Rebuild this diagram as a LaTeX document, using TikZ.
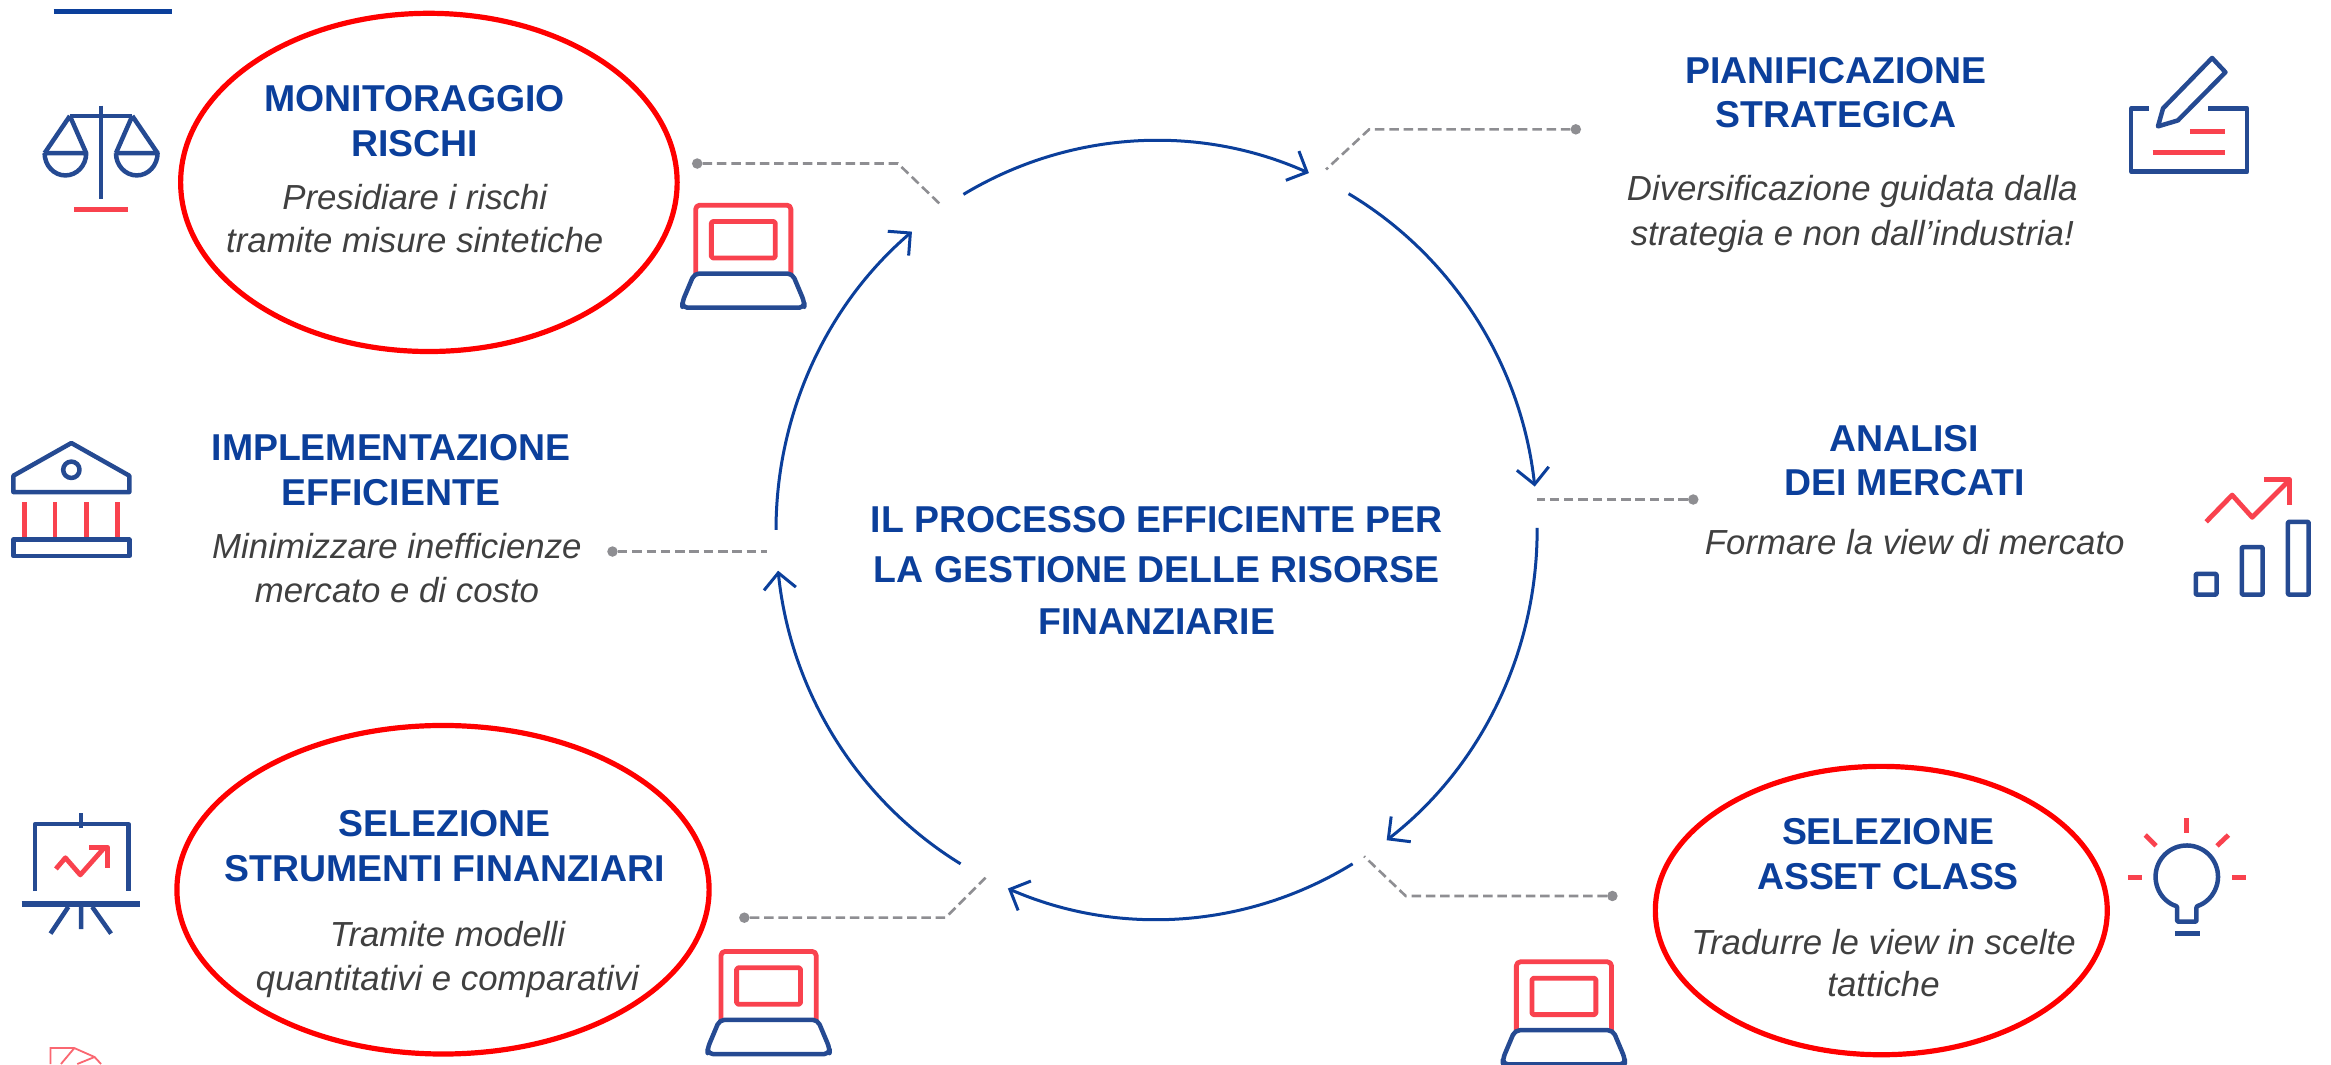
\documentclass[tikz,border=0pt]{standalone}
\usepackage{fontspec}
\setmainfont{Liberation Sans}
\usetikzlibrary{arrows.meta,calc,shapes.geometric}
\definecolor{titleblue}{HTML}{0B3F9B}
\definecolor{iconblue}{HTML}{254A92}
\definecolor{iconred}{HTML}{F9424E}
\definecolor{ringred}{HTML}{FF0000}
\definecolor{dashgray}{HTML}{8E8E92}
\definecolor{bodygray}{HTML}{404040}
\newcommand{\cyc}[3]{%
  \coordinate (#1) at ({778+256*cos(#2)},{356.5+262*sin(#2)});}
\tikzset{
  x=1.4866pt,y=-1.4866pt,
  ring/.style={ellipse,draw=ringred,line width=5.2pt,inner sep=0pt},
  head/.style={text=titleblue,font=\fontsize{37.4}{37.4}\selectfont\bfseries,anchor=base,inner sep=0pt},
  body/.style={text=bodygray,font=\fontsize{34.8}{34.8}\selectfont\itshape,anchor=base,inner sep=0pt},
  flow/.style={draw=titleblue,line width=3pt,-{Straight Barb[length=16pt,width=32pt,line width=3pt]}},
  lead/.style={draw=dashgray,line width=2.6pt,dash pattern=on 9.5pt off 4.8pt},
  leaddot/.style={circle,fill=dashgray,minimum size=10.5pt,inner sep=0pt},
  ib/.style={draw=iconblue,line width=4.5pt,line join=round},
  ir/.style={draw=iconred,line width=4.8pt,line join=round},
  pics/laptop/.style={code={
    \draw[ir,rounded corners=4pt] (-32,46) -- (-32,0) -- (32,0) -- (32,46);
    \draw[ir,rounded corners=1.5pt] (-21.5,11) rectangle (21.5,35.5);
    \draw[ib,rounded corners=5pt] (-33,46) -- (33,46) -- (41,65) -- (41,69) -- (-41,69) -- (-41,65) -- cycle;
  }},
}
\begin{document}
\begin{tikzpicture}
\useasboundingbox (0,0) rectangle (1568,715.73);
\fill[white] (0,0) rectangle (1568,715.73);
% top rule
\coordinate (ruleA) at (36,8); \coordinate (ruleB) at (116,8);
\draw[titleblue,line width=5pt] (ruleA) -- (ruleB);
% ellipses
\node[ring,minimum width={334*1.4866pt},minimum height={227.5*1.4866pt}] (ringA) at (288.5,122.7) {};
\node[ring,minimum width={358*1.4866pt},minimum height={221*1.4866pt}] (ringB) at (298,598.5) {};
\node[ring,minimum width={304*1.4866pt},minimum height={194*1.4866pt}] (ringC) at (1265.5,612.5) {};
% cycle arcs
\cyc{s1}{239.5}{} \draw[flow] (s1) arc[start angle=239.5,end angle=293.6,x radius=256,y radius=262];
\cyc{s2}{300.3}{} \draw[flow] (s2) arc[start angle=300.3,end angle=353.6,x radius=256,y radius=262];
\cyc{s3}{-0.3}{} \draw[flow] (s3) arc[start angle=-0.3,end angle=52.8,x radius=256,y radius=262];
\cyc{s4}{59}{} \draw[flow] (s4) arc[start angle=59,end angle=113,x radius=256,y radius=262];
\cyc{s5}{121}{} \draw[flow] (s5) arc[start angle=121,end angle=174,x radius=256,y radius=262];
\cyc{s6}{180}{} \draw[flow] (s6) arc[start angle=180,end angle=230,x radius=256,y radius=262];
% leaders
\node[leaddot] (dA) at (469,110) {}; \coordinate (kA) at (604,110); \coordinate (eA) at (632,137);
\draw[lead] (dA) -- (kA) -- (eA);
\node[leaddot] (dB) at (1060,87) {}; \coordinate (kB) at (921,87); \coordinate (eB) at (892,114);
\draw[lead] (dB) -- (kB) -- (eB);
\node[leaddot] (dC) at (1139,336) {}; \coordinate (eC) at (1034,336);
\draw[lead] (dC) -- (eC);
\node[leaddot] (dD) at (1084.6,602.7) {}; \coordinate (kD) at (945.6,602.7); \coordinate (eD) at (917.6,576);
\draw[lead] (dD) -- (kD) -- (eD);
\node[leaddot] (dE) at (500.7,617.3) {}; \coordinate (kE) at (636,617.3); \coordinate (eE) at (663,590.4);
\draw[lead] (dE) -- (kE) -- (eE);
\node[leaddot] (dF) at (412,371) {}; \coordinate (eF) at (516,371);
\draw[lead] (dF) -- (eF);
% texts
\node[head] (t1) at (279,75) {MONITORAGGIO};
\node[head] (t2) at (279,105) {RISCHI};
\node[body] (t3) at (279,141) {Presidiare i rischi};
\node[body] (t4) at (279,170) {tramite misure sintetiche};
\node[head] (t5) at (1235,56) {PIANIFICAZIONE};
\node[head] (t6) at (1235,86) {STRATEGICA};
\node[body] (t7) at (1246,135) {Diversificazione guidata dalla};
\node[body] (t8) at (1246,165) {strategia e non dall’industria!};
\node[head] (t9) at (1281,304) {ANALISI};
\node[head] (t10) at (1281,333) {DEI MERCATI};
\node[body] (t11) at (1288,373) {Formare la view di mercato};
\node[head] (t12) at (263,310) {IMPLEMENTAZIONE};
\node[head] (t13) at (263,340) {EFFICIENTE};
\node[body] (t14) at (267,376) {Minimizzare inefficienze};
\node[body] (t15) at (267,405) {mercato e di costo};
\node[head] (t16) at (778,358) {IL PROCESSO EFFICIENTE PER};
\node[head] (t17) at (778,392) {LA GESTIONE DELLE RISORSE};
\node[head] (t18) at (778,426.5) {FINANZIARIE};
\node[head] (t19) at (299,563) {SELEZIONE};
\node[head] (t20) at (299,593) {STRUMENTI FINANZIARI};
\node[body] (t21) at (301,637) {Tramite modelli};
\node[body] (t22) at (301,666) {quantitativi e comparativi};
\node[head] (t23) at (1270,568) {SELEZIONE};
\node[head] (t24) at (1270,598) {ASSET CLASS};
\node[body] (t25) at (1267,642) {Tradurre le view in scelte};
\node[body] (t26) at (1267,670) {tattiche};
% laptops
\pic at (500,138) {laptop};
\pic at (517,640) {laptop};
\pic at (1052,647) {laptop};
% scales
\draw[ib] (68,71) -- (68,134);
\draw[ib] (47,78) -- (89,78);
\draw[ib] (47,78) -- (30,103) (47,78) -- (58,103);
\draw[ib] (89,78) -- (78,103) (89,78) -- (106,103);
\draw[ib] (30,103) -- (58,103) arc[start angle=0,end angle=180,x radius=14,y radius=15];
\draw[ib] (78,103) -- (106,103) arc[start angle=0,end angle=180,x radius=14,y radius=15];
\draw[ir] (50,141) -- (86,141);
% pencil and sheet
\draw[ib] (1445.5,72.9) -- (1433.6,72.9) -- (1433.6,115.5) -- (1511.6,115.5) -- (1511.6,72.9) -- (1485,72.9);
\draw[ib] (1488,39) -- (1497,48.6) -- (1465,81) -- (1451.6,85) -- (1455,72.9) -- cycle;
\draw[ir] (1473,88.6) -- (1497,88.6);
\draw[ir] (1448,102.7) -- (1497,102.7);
% chart
\draw[ib,rounded corners=1pt] (1477,386) rectangle (1491,400);
\draw[ib,rounded corners=1pt] (1508,368) rectangle (1522,400);
\draw[ib,rounded corners=1pt] (1539,351) rectangle (1553,400);
\draw[ir] (1484,351) -- (1501.5,333) -- (1515,348) -- (1540,323);
\draw[ir] (1523,322.5) -- (1540,322.5) -- (1540,340);
% bank
\draw[ib] (48,298) -- (87,320) -- (87,331) -- (9,331) -- (9,320) -- cycle;
\draw[ib] (48,316) ellipse[x radius=5.5,y radius=5.5];
\foreach \cx in {16.4,37,58,79} \draw[ir] (\cx,338) -- (\cx,363);
\draw[ib] (9,363) rectangle (87,374);
% presentation board
\draw[ib] (54.6,547) -- (54.6,557);
\draw[ib] (23.5,599.5) -- (23.5,554.4) -- (86.6,554.4) -- (86.6,599.5);
\draw[ib,line width=6pt] (14.5,608) -- (94,608);
\draw[ib] (46,610) -- (34,628) (54.6,610) -- (54.6,625) (62,610) -- (74.7,628);
\draw[ir] (37.6,584.5) -- (44,577) -- (54,588.5) -- (70.4,570);
\draw[ir] (60,570) -- (72.5,570) -- (72.5,584);
% bulb
\draw[ib,rounded corners=1pt] (1464.5,620) -- (1464.5,609.7) arc[start angle=108,end angle=432,radius=21] -- (1477.5,620) -- cycle;
\draw[ib,line width=5pt] (1463,627.8) -- (1480,627.8);
\draw[ir] (1471,550.4) -- (1471,560);
\draw[ir] (1443,561.7) -- (1450.3,568.9);
\draw[ir] (1499,561.7) -- (1491.3,569);
\draw[ir] (1431.6,590) -- (1441,590);
\draw[ir] (1501.6,590) -- (1511,590);
% clipped fragment
\draw[iconred,line width=1.8pt,opacity=.8] (34,715.73) -- (34,705) -- (50,705) -- (63.6,711) -- (68,715.73) (50,705) -- (41,715.73) (63.6,711) -- (52,715.73);
\end{tikzpicture}
\end{document}
